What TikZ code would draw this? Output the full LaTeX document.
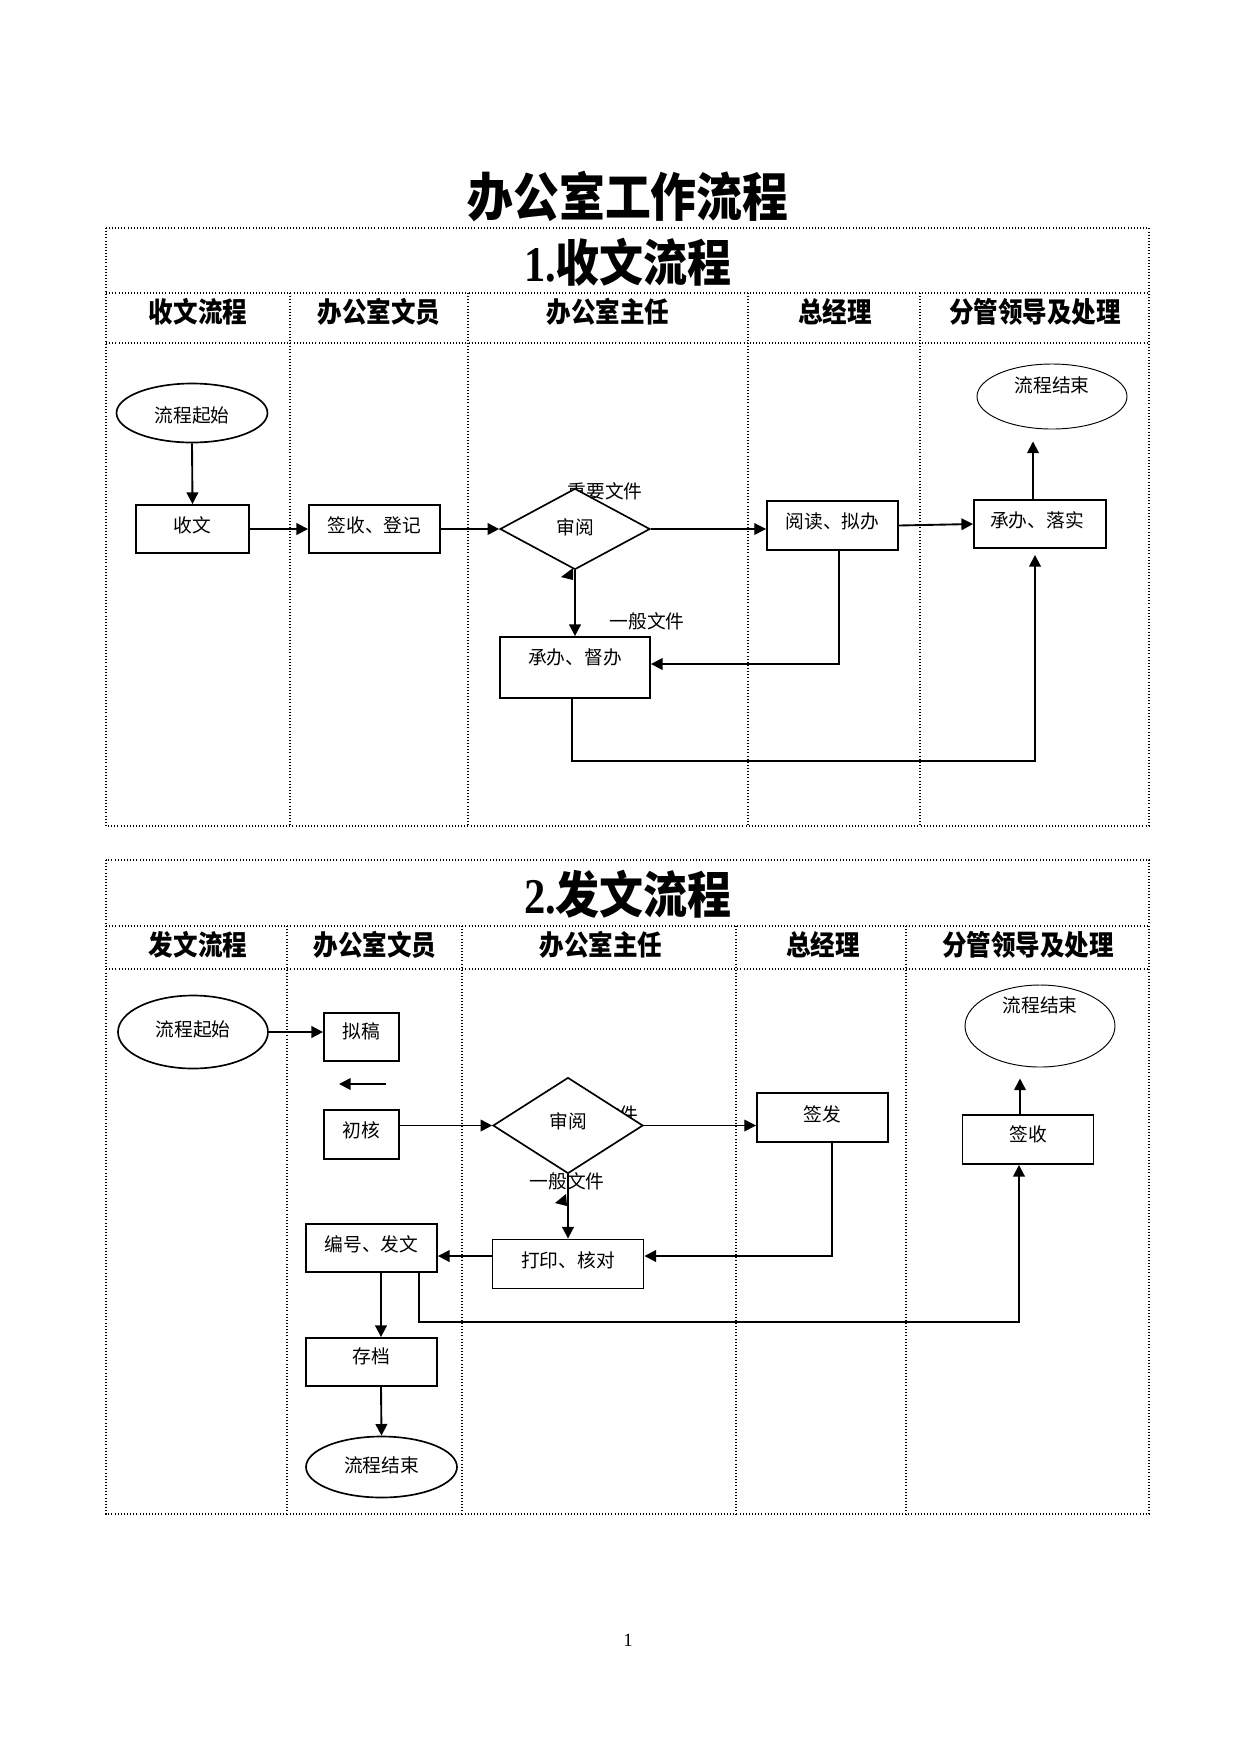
\documentclass[tikz,border=0pt]{standalone}
\usepackage{fontspec}
\setmainfont{Liberation Serif}
\newfontfamily\cjk{Noto Sans CJK SC}
\newfontfamily\cjkh{Noto Sans CJK SC}[FakeStretch=0.88]
\newfontfamily\serifc{Liberation Serif}[FakeStretch=0.85]
\usetikzlibrary{arrows.meta,shapes.geometric}
\def\PX{*0.48pt}
\begin{document}
\begin{tikzpicture}[x=0.48pt,y=-0.48pt,
  grid/.style={densely dotted, line width=0.5pt},
  rbox/.style={draw, fill=white, line width=0.9pt, inner sep=0pt, rectangle},
  dbox/.style={draw, fill=white, line width=0.8pt, diamond, inner sep=0pt},
  ebox/.style={draw, fill=white, line width=0.8pt, ellipse, inner sep=0pt},
  ethin/.style={draw, fill=white, line width=0.45pt, ellipse, inner sep=0pt},
  t/.style={font=\cjk\fontsize{9}{10}\selectfont, inner sep=0pt},
  hd/.style={font=\cjkh\bfseries\fontsize{13.4}{15}\selectfont, inner sep=0pt},
  sec/.style={font=\fontsize{24}{28}\selectfont, inner sep=0pt},
  arr/.style={-{Triangle[length=5.6pt,width=5.6pt]}, line width=0.9pt},
  arrthin/.style={-{Triangle[length=5.6pt,width=5.6pt]}, line width=0.5pt},
  ln/.style={line width=0.9pt}]
\useasboundingbox (0,0) rectangle (1240,1754);
\fill[white] (0,0) rectangle (1240,1754);

% ---------- title ----------
\node[inner sep=0pt, font=\cjkh\bfseries\fontsize{25}{30}\selectfont] (title) at (628,197) {办公室工作流程};

% ---------- section 1 grid ----------
\draw[grid] (106,228) rectangle (1149,826);
\draw[grid] (106,293) -- (1149,293);
\draw[grid] (106,343) -- (1149,343);
\foreach \x in {290,468,748,920} \draw[grid] (\x,293) -- (\x,826);

\node[sec] (s1title) at (628,262) {{\serifc\bfseries 1.}{\cjkh\bfseries 收文流程}};
\node[hd] (s1h1) at (198,312) {收文流程};
\node[hd] (s1h2) at (379,312) {办公室文员};
\node[hd] (s1h3) at (608,312) {办公室主任};
\node[hd] (s1h4) at (835,312) {总经理};
\node[hd] (s1h5) at (1035,312) {分管领导及处理};

% ---------- section 1 nodes ----------
\node[ebox, minimum width=151\PX, minimum height=59\PX, label={[t,yshift=-1pt]center:流程起始}] (s1start) at (192,413) {};
\node[rbox, minimum width=113\PX, minimum height=48\PX, label={[t,yshift=1.9pt]center:收文}] (s1shouwen) at (192.5,529) {};
\node[rbox, minimum width=131\PX, minimum height=48\PX, label={[t,yshift=1.9pt]center:签收、登记}] (s1qianshou) at (374.5,529) {};
\node[t] (s1imp) at (605,491) {重要文件};
\node[dbox, minimum width=150\PX, minimum height=81\PX, label={[t,yshift=1pt]center:审阅}] (s1dia) at (575,529) {};
\node[rbox, minimum width=150\PX, minimum height=61\PX, label={[t,yshift=5pt]center:承办、督办}] (s1chengban) at (575,667.5) {};
\node[t] (s1gen) at (647,621) {一般文件};
\node[rbox, minimum width=131\PX, minimum height=49\PX, label={[t,yshift=2.2pt]center:阅读、拟办}] (s1yuedu) at (832.5,525.5) {};
\node[rbox, minimum width=132\PX, minimum height=48\PX, label={[t,yshift=1.9pt,xshift=-1.5pt]center:承办、落实}] (s1chengluo) at (1040,524) {};
\node[ethin, minimum width=150\PX, minimum height=65\PX, label={[t,yshift=5.5pt]center:流程结束}] (s1end) at (1052,396.5) {};

% ---------- section 1 connectors ----------
\draw[arr] (s1start.south) -- (s1shouwen.north);
\draw[arr] (s1shouwen.east) -- (s1qianshou.west);
\draw[arr] (s1qianshou.east) -- (s1dia.west);
\draw[arrthin] (s1dia.east) -- (s1dia.east -| s1yuedu.west);
\draw[arr] (s1yuedu.east) -- (s1chengluo.west);
\draw[arr] ([xshift=-7\PX]s1chengluo.north) -- ([xshift=-19\PX,yshift=-12\PX]s1end.south);
\draw[arr] (s1dia.south) -- (s1chengban.north);
\fill (573,568) -- (561,577) -- (573,580) -- cycle;
\draw[arr] ([xshift=6.5\PX]s1yuedu.south) |- ([yshift=3.5\PX]s1chengban.east);
\draw[arr] ([xshift=-3\PX]s1chengban.south) -- ++(0,62) -| ([xshift=-5\PX,yshift=-6\PX]s1chengluo.south);

% ---------- section 2 grid ----------
\draw[grid] (106,860) rectangle (1149,1514);
\draw[grid] (106,926) -- (1149,926);
\draw[grid] (106,969) -- (1149,969);
\foreach \x in {287,462,736,906} \draw[grid] (\x,926) -- (\x,1514);

\node[sec] (s2title) at (628,894) {{\serifc\bfseries 2.}{\cjkh\bfseries 发文流程}};
\node[hd] (s2h1) at (198,945) {发文流程};
\node[hd] (s2h2) at (375,945) {办公室文员};
\node[hd] (s2h3) at (601,945) {办公室主任};
\node[hd] (s2h4) at (823,945) {总经理};
\node[hd] (s2h5) at (1028,945) {分管领导及处理};

% ---------- section 2 nodes ----------
\node[ebox, minimum width=150\PX, minimum height=73\PX, label={[t,yshift=1.2pt]center:流程起始}] (s2start) at (193,1032) {};
\node[rbox, minimum width=75\PX, minimum height=48\PX, label={[t,yshift=2.9pt]center:拟稿}] (s2nigao) at (361.5,1037) {};
\coordinate (s2sa) at (386,1084);
\coordinate (s2sb) at (339,1084);
\node[rbox, minimum width=75\PX, minimum height=49\PX, label={[t,yshift=2.2pt]center:初核}] (s2chuhe) at (361.5,1134.5) {};
\node[t, anchor=east] (s2imp) at (639,1114) {重要文件};
\node[dbox, minimum width=150\PX, minimum height=96\PX, label={[t,yshift=1.9pt]center:审阅}] (s2dia) at (568,1125.5) {};
\node[t] (s2gen) at (567,1181) {一般文件};
\node[rbox, minimum width=131\PX, minimum height=49\PX, label={[t,yshift=1.7pt]center:签发}] (s2qianfa) at (822.5,1117.5) {};
\node[rbox, minimum width=151\PX, minimum height=49\PX, label={[t,yshift=1.9pt]center:打印、核对}] (s2dayin) at (568,1264) {};
\node[rbox, minimum width=131\PX, minimum height=48\PX, label={[t,yshift=1.9pt]center:编号、发文}] (s2bianhao) at (371.5,1248) {};
\node[rbox, minimum width=131\PX, minimum height=48\PX, label={[t,yshift=2.9pt]center:存档}] (s2cundang) at (371.5,1362) {};
\node[ebox, minimum width=151\PX, minimum height=61\PX, label={[t,yshift=1pt]center:流程结束}] (s2end1) at (381.5,1467) {};
\node[rbox, minimum width=131\PX, minimum height=49\PX, label={[t,yshift=2.6pt]center:签收}] (s2qianshou) at (1028,1139.5) {};
\node[ethin, minimum width=150\PX, minimum height=82\PX, label={[t,yshift=10pt]center:流程结束}] (s2end2) at (1040,1026) {};

% ---------- section 2 connectors ----------
\draw[arr] (s2start.east) -- (s2start.east -| s2nigao.west);
\draw[arr] (s2sa) -- (s2sb);
\draw[arr] (s2chuhe.east |- s2dia.west) -- (s2dia.west);
\draw[arrthin] (s2dia.east) -- (s2dia.east -| s2qianfa.west);
\draw[arr] (s2dia.south) -- (s2dayin.north);
\fill (566,1194) -- (555,1203) -- (567,1206) -- cycle;
\draw[arr] ([xshift=9.5\PX]s2qianfa.south) |- ([yshift=8\PX]s2dayin.east);
\draw[arr] ([yshift=8\PX]s2dayin.west) -- ([yshift=8\PX]s2dayin.west -| s2bianhao.east);
\draw[arr] ([xshift=9.5\PX]s2bianhao.south) -- ([xshift=9.5\PX]s2cundang.north);
\draw[arr] ([xshift=9.5\PX]s2cundang.south) -- (s2end1.north);
\draw[arr] ([xshift=47.5\PX]s2bianhao.south) -- ++(0,49) -| ([xshift=-9\PX]s2qianshou.south);
\draw[arr] ([xshift=-8\PX]s2qianshou.north) -- ([xshift=-20\PX,yshift=-11\PX]s2end2.south);

% ---------- page number ----------
\node[inner sep=0pt, font=\fontsize{9}{10}\selectfont] (pagenum) at (628,1640) {1};
\end{tikzpicture}
\end{document}
